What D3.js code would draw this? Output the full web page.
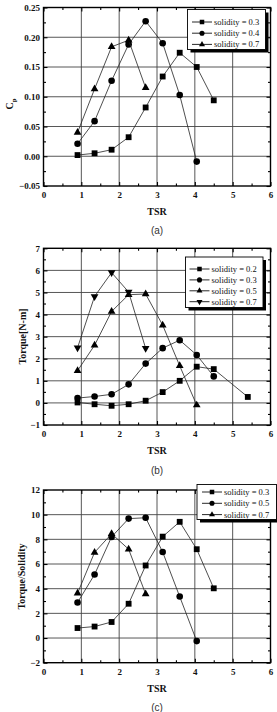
<!DOCTYPE html>
<html lang="en">
<head>
    <meta charset="UTF-8">
    <title>TSR charts</title>
    <script src="https://d3js.org/d3.v7.min.js"></script>
    <style>
        body { margin: 0; background: #fff; }
        svg { display: block; }
        .tick text { font-family: "Liberation Serif", "DejaVu Serif", serif; font-weight: bold; font-size: 9px; fill: #111; }
        .axis-title { font-family: "Liberation Serif", serif; font-weight: bold; font-size: 10px; fill: #111; }
        .caption { font-family: "Liberation Sans", "DejaVu Sans", sans-serif; font-size: 10px; fill: #333; }
        .legend text { font-family: "Liberation Serif", serif; font-size: 8.5px; fill: #111; }
    </style>
</head>
<body>
<svg id="canvas" width="277" height="712"></svg>
<script>
let tsrSteps = [0.9, 1.35, 1.8, 2.25, 2.7, 3.15, 3.6, 4.05, 4.5, 5.4]
let tsrTicks = [0, 1, 2, 3, 4, 5, 6]

// (a) power coefficient
let cpTicks = [-0.05, 0, 0.05, 0.10, 0.15, 0.20, 0.25]
let cpSol03 = [0.002, 0.005, 0.011, 0.032, 0.082, 0.134, 0.174, 0.150, 0.094]
let cpSol04 = [0.021, 0.059, 0.127, 0.188, 0.227, 0.190, 0.103, -0.009]
let cpSol07 = [0.040, 0.113, 0.184, 0.195, 0.115]
let cpLabels = ['solidity = 0.3', 'solidity = 0.4', 'solidity = 0.7']

// (b) torque
let torqueTicks = [-1, 0, 1, 2, 3, 4, 5, 6, 7]
let tqSol02 = [0.02, -0.06, -0.13, -0.06, 0.10, 0.49, 1.00, 1.64, 1.53, 0.27]
let tqSol03 = [0.22, 0.29, 0.39, 0.84, 1.78, 2.48, 2.84, 2.17, 1.20]
let tqSol05 = [1.46, 2.61, 4.14, 4.90, 4.93, 3.52, 1.68, -0.10]
let tqSol07 = [2.50, 4.82, 5.90, 5.02, 2.47]
let tqLabels = ['solidity = 0.2', 'solidity = 0.3', 'solidity = 0.5', 'solidity = 0.7']

// (c) torque / solidity
let ratioTicks = [-2, 0, 2, 4, 6, 8, 10, 12]
let tsSol03 = [0.81, 0.93, 1.30, 2.78, 5.88, 8.22, 9.42, 7.20, 4.03]
let tsSol05 = [2.88, 5.15, 8.20, 9.68, 9.75, 6.97, 3.36, -0.25]
let tsSol07 = [3.63, 6.94, 8.45, 7.20, 3.57]
let ratioLabels = ['solidity = 0.3', 'solidity = 0.5', 'solidity = 0.7']

let svg = d3.select('#canvas')

let symbols = {
    square: {type: d3.symbolSquare, size: 34, rot: 0},
    circle: {type: d3.symbolCircle, size: 34, rot: 0},
    up: {type: d3.symbolTriangle, size: 26, rot: 0},
    down: {type: d3.symbolTriangle, size: 26, rot: 180}
}

let drawPanel = (p) => {
    let g = svg.append('g')
    let x = d3.scaleLinear().domain([0, 6]).range([p.left, p.right])
    let y = d3.scaleLinear().domain([p.ticks[0], p.ticks[p.ticks.length - 1]]).range([p.bottom, p.top])

    // grid
    g.selectAll('.gx').data(tsrTicks.slice(1, -1)).enter().append('line')
        .attr('x1', d => x(d)).attr('x2', d => x(d))
        .attr('y1', p.top).attr('y2', p.bottom)
        .attr('stroke', '#444').attr('stroke-width', 0.9)
    g.selectAll('.gy').data(p.ticks.slice(1, -1)).enter().append('line')
        .attr('y1', d => y(d)).attr('y2', d => y(d))
        .attr('x1', p.left).attr('x2', p.right)
        .attr('stroke', '#444').attr('stroke-width', 0.9)

    // minor ticks
    let xMinor = d3.range(0.5, 6, 1)
    let yStep = p.ticks[1] - p.ticks[0]
    let yMinor = p.ticks.slice(0, -1).map(d => d + yStep / 2)

    let axes = [
        d3.axisBottom(x).tickValues(tsrTicks).tickSize(-4).tickPadding(5.5).tickFormat(d3.format('d')),
        d3.axisLeft(y).tickValues(p.ticks).tickSize(-4).tickPadding(3.5).tickFormat(p.fmt)
    ]
    g.append('g').attr('transform', `translate(0,${p.bottom})`).call(axes[0])
    g.append('g').attr('transform', `translate(${p.left},0)`).call(axes[1])
    g.append('g').attr('transform', `translate(0,${p.top})`).call(d3.axisTop(x).tickValues(tsrTicks).tickSize(-4).tickFormat(''))
    g.append('g').attr('transform', `translate(${p.right},0)`).call(d3.axisRight(y).tickValues(p.ticks).tickSize(-4).tickFormat(''))
    g.append('g').attr('transform', `translate(0,${p.bottom})`).call(d3.axisBottom(x).tickValues(xMinor).tickSize(-2.5).tickFormat(''))
    g.append('g').attr('transform', `translate(0,${p.top})`).call(d3.axisTop(x).tickValues(xMinor).tickSize(-2.5).tickFormat(''))
    g.append('g').attr('transform', `translate(${p.left},0)`).call(d3.axisLeft(y).tickValues(yMinor).tickSize(-2.5).tickFormat(''))
    g.append('g').attr('transform', `translate(${p.right},0)`).call(d3.axisRight(y).tickValues(yMinor).tickSize(-2.5).tickFormat(''))
    g.selectAll('.domain').remove()
    g.selectAll('.tick line').attr('stroke', '#000').attr('stroke-width', 1.1)

    g.append('rect')
        .attr('x', p.left).attr('y', p.top)
        .attr('width', p.right - p.left).attr('height', p.bottom - p.top)
        .attr('fill', 'none').attr('stroke', '#000').attr('stroke-width', 1.4)

    // series
    let line = d3.line().x(d => x(d[0])).y(d => y(d[1]))
    p.series.forEach((s) => {
        let pts = s.values.map((v, i) => [tsrSteps[i], v])
        g.append('path').attr('d', line(pts))
            .attr('fill', 'none').attr('stroke', '#222').attr('stroke-width', 0.8)
        let sym = symbols[s.marker]
        g.selectAll(null).data(pts).enter().append('path')
            .attr('d', d3.symbol().type(sym.type).size(sym.size))
            .attr('transform', d => `translate(${x(d[0])},${y(d[1])}) rotate(${sym.rot})`)
            .attr('fill', '#000')
    })

    // titles
    g.append('text').attr('class', 'axis-title')
        .attr('x', (p.left + p.right) / 2).attr('y', p.bottom + 29)
        .attr('text-anchor', 'middle').text('TSR')
    let yt = g.append('text').attr('class', 'axis-title')
        .attr('text-anchor', 'middle')
        .attr('transform', `translate(${p.ylabelX},${p.ylabelY}) rotate(-90)`)
    yt.append('tspan').text(p.ylabel)
    if (p.ysub) {
        yt.append('tspan').attr('dy', 3).attr('font-size', '7px').text(p.ysub)
    }
    g.append('text').attr('class', 'caption')
        .attr('x', (p.left + p.right) / 2).attr('y', p.captionY)
        .attr('text-anchor', 'middle').text(p.caption)

    // legend
    let L = p.legend
    let lg = g.append('g').attr('class', 'legend')
    lg.append('rect').attr('x', L.x0 + 3).attr('y', L.y0 + 3)
        .attr('width', L.x1 - L.x0).attr('height', L.y1 - L.y0).attr('fill', '#000')
    lg.append('rect').attr('x', L.x0).attr('y', L.y0)
        .attr('width', L.x1 - L.x0).attr('height', L.y1 - L.y0)
        .attr('fill', '#fff').attr('stroke', '#000').attr('stroke-width', 0.9)
    p.series.forEach((s, i) => {
        let ry = L.rowY + i * L.rowH
        lg.append('line').attr('x1', L.lineX).attr('x2', L.lineX + 20)
            .attr('y1', ry).attr('y2', ry).attr('stroke', '#111').attr('stroke-width', 0.9)
        let sym = symbols[s.marker]
        lg.append('path')
            .attr('d', d3.symbol().type(sym.type).size(sym.size * 0.6))
            .attr('transform', `translate(${L.lineX + 10},${ry}) rotate(${sym.rot})`)
            .attr('fill', '#000')
        lg.append('text').attr('x', L.lineX + 22).attr('y', ry + 3).text(p.labels[i])
    })
}

drawPanel({
    left: 43.5, right: 270.5, top: 7.5, bottom: 186,
    ticks: cpTicks, fmt: d3.format('.2f'),
    ylabel: 'C', ysub: 'p', ylabelX: 13, ylabelY: 104,
    caption: '(a)', captionY: 234,
    series: [
        {values: cpSol03, marker: 'square'},
        {values: cpSol04, marker: 'circle'},
        {values: cpSol07, marker: 'up'}
    ],
    labels: cpLabels,
    legend: {x0: 187.5, x1: 265.5, y0: 9.5, y1: 49.5, rowY: 22, rowH: 11.2, lineX: 192}
})

drawPanel({
    left: 43.5, right: 270.5, top: 248.3, bottom: 425,
    ticks: torqueTicks, fmt: d3.format('d'),
    ylabel: 'Torque[N-m]', ylabelX: 26, ylabelY: 336.5,
    caption: '(b)', captionY: 474,
    series: [
        {values: tqSol02, marker: 'square'},
        {values: tqSol03, marker: 'circle'},
        {values: tqSol05, marker: 'up'},
        {values: tqSol07, marker: 'down'}
    ],
    labels: tqLabels,
    legend: {x0: 185.5, x1: 263, y0: 257, y1: 307.5, rowY: 269, rowH: 10.9, lineX: 189.5}
})

drawPanel({
    left: 43.5, right: 270.5, top: 490, bottom: 662.7,
    ticks: ratioTicks, fmt: d3.format('d'),
    ylabel: 'Torque/Solidity', ylabelX: 25, ylabelY: 576.5,
    caption: '(c)', captionY: 711,
    series: [
        {values: tsSol03, marker: 'square'},
        {values: tsSol05, marker: 'circle'},
        {values: tsSol07, marker: 'up'}
    ],
    labels: ratioLabels,
    legend: {x0: 197, x1: 276.5, y0: 484.5, y1: 519.5, rowY: 492, rowH: 11.3, lineX: 202}
})
</script>
</body>
</html>
